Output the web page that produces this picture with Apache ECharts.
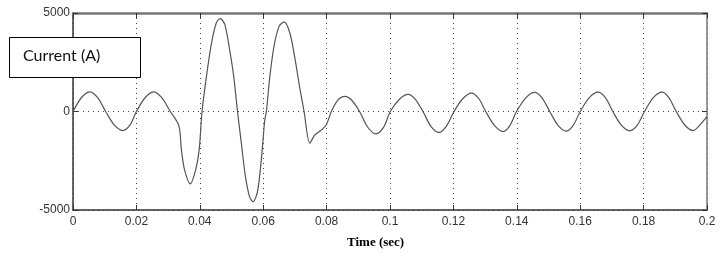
<!DOCTYPE html>
<html>
<head>
<meta charset="utf-8">
<script src="https://cdn.jsdelivr.net/npm/echarts@6/dist/echarts.min.js"></script>
<style>
  html, body { margin: 0; padding: 0; background: #fff; }
  #chart { width: 728px; height: 257px; }
</style>
</head>
<body>
<div id="chart"></div>
<script>
// time (s)
var timeSec = [
  0, 0.0027, 0.0053, 0.0078, 0.0103, 0.013, 0.0157, 0.018,
  0.02, 0.0228, 0.0255, 0.028, 0.0307, 0.0334,
  0.0342, 0.0352, 0.037, 0.0387, 0.0398, 0.0407, 0.0421, 0.0437, 0.0452,
  0.0465, 0.0479, 0.0494, 0.0507, 0.0519, 0.0531, 0.0544, 0.0557, 0.0568,
  0.0582, 0.0594, 0.0605, 0.061, 0.0621, 0.0634, 0.065, 0.0666, 0.0684,
  0.0699, 0.0715, 0.0729, 0.0747, 0.0763, 0.0784, 0.0799, 0.0815, 0.0836,
  0.0858, 0.088, 0.0904, 0.093, 0.0955,
  0.098, 0.1001, 0.1029, 0.1057, 0.108, 0.1104, 0.1129, 0.1155, 0.1178,
  0.1202, 0.123, 0.1257, 0.128, 0.1302, 0.133, 0.1357, 0.1378, 0.1399,
  0.1428, 0.1456, 0.148, 0.1504, 0.153, 0.1556, 0.1578, 0.16,
  0.1628, 0.1656, 0.168, 0.1703, 0.173, 0.1756, 0.178, 0.1803,
  0.183, 0.1858, 0.188, 0.1903, 0.193, 0.1956, 0.198, 0.2
];
// current (A)
var currentA = [
  0, 710, 1000, 700, 0, -680, -966, -680,
  0, 710, 1000, 700, 0, -727,
  -1950, -2965, -3676, -2965, -1950, 0, 1780, 3478, 4495,
  4714, 4409, 3137, 1780, 0, -1607, -3305, -4322, -4577,
  -4068, -2456, -420, 0, 1780, 3305, 4322, 4546, 3987,
  2797, 1230, 0, -1607, -1185, -931, -676, 0, 595,
  763, 560, 0, -800, -1134,
  -790, 0, 610, 870, 620, 0, -750, -1060, -740,
  0, 660, 936, 660, 0, -720, -1017, -720, 0,
  680, 966, 680, 0, -705, -997, -705, 0,
  695, 986, 695, 0, -695, -981, -695, 0,
  695, 986, 695, 0, -685, -966, -640, -250
];
var xTicks = [0, 0.2, 0.02];      // min, max, step
var yTicks = [-5000, 5000, 5000];

var points = timeSec.map(function (t, i) { return [t, currentA[i]]; });

var chart = echarts.init(document.getElementById('chart'));
var tickFont = { fontFamily: 'Liberation Sans Narrow, Liberation Sans, Arial', fontSize: 12, color: '#333' };
chart.setOption({
  animation: false,
  grid: { left: 73, right: 21, top: 13, bottom: 47 },
  xAxis: [
    {
      type: 'value', min: xTicks[0], max: xTicks[1], interval: xTicks[2],
      axisLine: { onZero: false, lineStyle: { color: '#333', width: 1.5 } },
      axisTick: { inside: true, length: 5, lineStyle: { color: '#333' } },
      axisLabel: Object.assign({ margin: 6 }, tickFont),
      splitLine: { show: true, lineStyle: { color: '#444', type: [1, 4], width: 1 } }
    },
    {
      type: 'value', position: 'top', min: xTicks[0], max: xTicks[1], interval: xTicks[2],
      axisLine: { show: true, onZero: false, lineStyle: { color: '#777', width: 2.5 } },
      axisTick: { inside: true, length: 5, lineStyle: { color: '#333' } },
      axisLabel: { show: false },
      splitLine: { show: false }
    }
  ],
  yAxis: [
    {
      type: 'value', min: yTicks[0], max: yTicks[1], interval: yTicks[2],
      axisLine: { show: true, onZero: false, lineStyle: { color: '#333', width: 1.5 } },
      axisTick: { show: true, inside: true, length: 5, lineStyle: { color: '#333' } },
      axisLabel: Object.assign({ margin: 3, formatter: function (v) { return String(v); } }, tickFont),
      splitLine: { show: true, lineStyle: { color: '#444', type: [1, 4], width: 1 } }
    },
    {
      type: 'value', position: 'right', min: yTicks[0], max: yTicks[1], interval: yTicks[2],
      axisLine: { show: true, onZero: false, lineStyle: { color: '#777', width: 1.5 } },
      axisTick: { show: true, inside: true, length: 5, lineStyle: { color: '#333' } },
      axisLabel: { show: false },
      splitLine: { show: false }
    }
  ],
  graphic: [
    {
      type: 'rect', left: 9, top: 37, z: 100,
      shape: { width: 131, height: 40 },
      style: { fill: '#fff', stroke: '#000', lineWidth: 1 }
    },
    {
      type: 'text', left: 23, top: 48, z: 101,
      style: { text: 'Current (A)', fill: '#111', font: '16px Lato, "Open Sans", sans-serif' }
    },
    {
      type: 'text', left: 347, top: 236, z: 101,
      style: { text: 'Time (sec)', fill: '#000', font: 'bold 13px "Liberation Serif", serif' }
    }
  ],
  series: [
    {
      type: 'line',
      data: points,
      smooth: 0.3,
      showSymbol: false,
      lineStyle: { color: '#555', width: 1.2 }
    }
  ]
});
</script>
</body>
</html>
